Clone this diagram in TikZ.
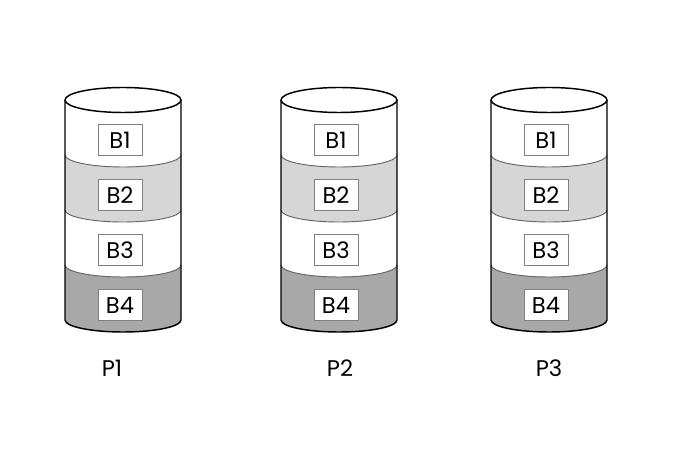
\documentclass[tikz,border=0pt]{standalone}
\usepackage{fontspec}
\setmainfont{Poppins}
\usepackage{tikz}
\definecolor{bandlight}{HTML}{D6D6D6}
\definecolor{banddark}{HTML}{A8A8A8}
\definecolor{boxedge}{HTML}{808080}
\tikzset{
  outline/.style={draw=black,line width=1.1pt},
  sepline/.style={draw=black!60,line width=0.7pt},
  blockbox/.style={draw=boxedge,fill=white,line width=0.6pt,minimum width=33pt,minimum height=23.25pt,inner sep=0pt,font=\fontsize{17}{19}\selectfont},
  disklabel/.style={font=\fontsize{17}{19}\selectfont}
}

\begin{document}
\begin{tikzpicture}[x=0.75pt,y=0.75pt]
		\newcommand{\drawDisk}[3]{
			% bands, top to bottom
			\foreach \lvl/\shade in {0/white,1/bandlight,2/white,3/banddark}{
				\pgfmathsetmacro{\ytop}{350-55*\lvl}
				\pgfmathsetmacro{\ybot}{295-55*\lvl}
				\fill[\shade] (#2-58,\ytop) arc[start angle=180,end angle=360,x radius=58,y radius=12] -- (#2+58,\ybot) arc[start angle=0,end angle=-180,x radius=58,y radius=12] -- cycle;
			}
			\foreach \lvl in {1,2,3}{
				\draw[sepline] (#2-58,350-55*\lvl) arc[start angle=180,end angle=360,x radius=58,y radius=12];
			}
			\filldraw[outline,fill=white] (#2,350) ellipse[x radius=58,y radius=12.5];
			\draw[outline] (#2-58,350) -- (#2-58,130) arc[start angle=180,end angle=360,x radius=58,y radius=12] -- (#2+58,350);
			\foreach \i in {1,...,4}{
				\node[blockbox] (#1b\i) at (#2-3,365-55*\i) {B\i};
			}
			\node[disklabel] (#1) at (#3,82) {#1};
		}
		\useasboundingbox (0,0) rectangle (675,450);
		\drawDisk{P1}{123}{112}
		\drawDisk{P2}{339}{340}
		\drawDisk{P3}{549}{549}
	\end{tikzpicture}
\end{document}
